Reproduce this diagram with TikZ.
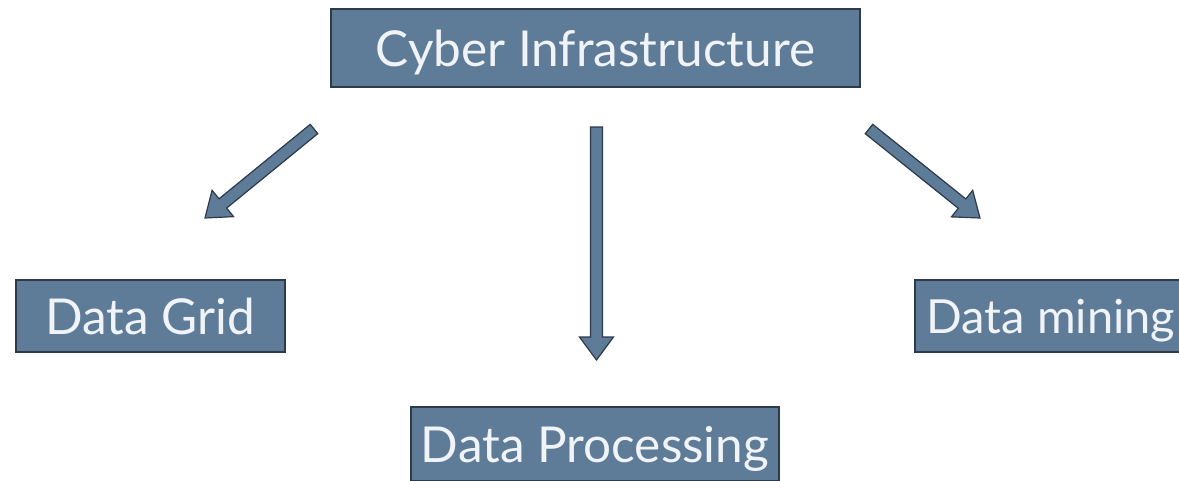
\documentclass[tikz,border=0pt]{standalone}
\usepackage{fontspec}
\setmainfont{Lato}
\usetikzlibrary{calc}
\definecolor{boxfill}{RGB}{94,123,152}
\definecolor{boxedge}{RGB}{45,58,74}
\definecolor{boxtext}{RGB}{240,243,247}
\newcommand{\blockarr}[2]{%
  \coordinate (#1#2base) at ($(#2)!23pt!(#1)$);
  \draw[blockarrow] ($(#1)!6pt!90:(#2)$) -- ($(#1#2base)!6pt!-90:(#1)$) -- ($(#1#2base)!17pt!-90:(#1)$) -- (#2) -- ($(#1#2base)!17pt!90:(#1)$) -- ($(#1#2base)!6pt!90:(#1)$) -- ($(#1)!6pt!-90:(#2)$) -- cycle;}
\begin{document}
\begin{tikzpicture}[x=1pt,y=-1pt,
  box/.style={draw=boxedge, line width=1.5pt, fill=boxfill, text=boxtext, inner sep=0pt,
    text height=36pt, text depth=0pt, font=\fontsize{49.5}{50}\selectfont},
  blockarrow/.style={draw=boxedge, line width=1.2pt, fill=boxfill, line join=miter}]
\useasboundingbox (0,0) rectangle (1179,480);
\node[box, minimum width=529pt, minimum height=78pt] (ci) at (595.5,48) {Cyber Infrastructure};
\node[box, minimum width=269pt, minimum height=72pt] (dg) at (150.5,316) {Data Grid};
\node[box, minimum width=272pt, minimum height=72pt, text height=34pt,
  font=\fontsize{47}{48}\selectfont] (dm) at (1051,316) {Data mining};
\node[box, minimum width=368pt, minimum height=74pt] (dp) at (595,444) {Data Processing};
\coordinate (l0) at (314,129); \coordinate (l1) at (205,218);
\coordinate (m0) at (596.5,127); \coordinate (m1) at (596.5,360);
\coordinate (r0) at (869,129); \coordinate (r1) at (980,218);
\blockarr{l0}{l1}
\blockarr{m0}{m1}
\blockarr{r0}{r1}
\end{tikzpicture}
\end{document}
